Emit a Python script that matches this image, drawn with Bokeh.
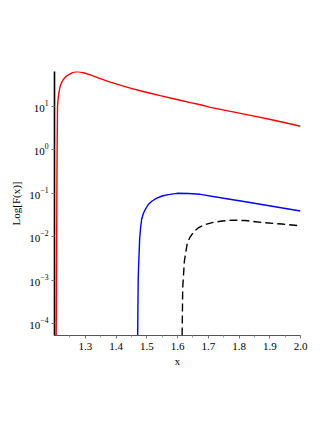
from bokeh.plotting import figure
from bokeh.models import FixedTicker, Range1d, NumeralTickFormatter
from bokeh.embed import file_html
from bokeh.resources import INLINE

# Red curve
red_x = [1.2055, 1.2065, 1.2075, 1.2085, 1.2098, 1.2115, 1.2140, 1.2165, 1.2190, 1.2230,
         1.2270, 1.2350, 1.2430, 1.2510, 1.2590, 1.2674, 1.2750, 1.2850, 1.3000, 1.3163,
         1.3489, 1.3814, 1.4140, 1.4466, 1.4790, 1.5117, 1.5440, 1.5769, 1.6090, 1.6420,
         1.6750, 1.7072, 1.7560, 1.8049, 1.8540, 1.9026, 1.9510, 2.0]
red_y = [5.3e-5, 1e-3, 0.05, 1.0, 10.0, 14.0, 20.0, 25.0, 30.0, 35.0,
         40.0, 47.0, 52.0, 56.0, 60.0, 62.5, 63.0, 61.5, 58.0, 53.3,
         43.5, 36.3, 30.8, 26.4, 22.9, 20.1, 17.7, 15.6, 13.8, 12.2,
         10.9, 9.49, 8.09, 6.91, 5.90, 4.98, 4.19, 3.48]

# Blue curve
blue_x = [1.4705, 1.4712, 1.4722, 1.4736, 1.4769, 1.4800, 1.4834, 1.4890, 1.4954, 1.5050,
          1.5173, 1.5330, 1.5498, 1.5700, 1.5987, 1.6350, 1.6746, 1.7500, 1.8210, 1.9030, 2.0]
blue_y = [5.3e-5, 2e-4, 1e-3, 0.0021, 0.0088, 0.016, 0.0252, 0.034, 0.0427, 0.055,
          0.0662, 0.077, 0.0863, 0.093, 0.0995, 0.0985, 0.0944, 0.0767, 0.0635, 0.0508, 0.039]

# Black dashed curve
black_x = [1.6150, 1.6170, 1.6225, 1.6313, 1.6390, 1.6475, 1.6580, 1.6690, 1.6900, 1.7127,
           1.7450, 1.7780, 1.8200, 1.8800, 1.9400, 2.0]
black_y = [5.3e-5, 6.8e-4, 0.00279, 0.00676, 0.0092, 0.0114, 0.0139, 0.0162, 0.0190, 0.0211,
           0.0230, 0.0240, 0.0235, 0.0210, 0.0195, 0.0177]

x_ticks = [1.3, 1.4, 1.5, 1.6, 1.7, 1.8, 1.9, 2.0]
x_minor = [1.25, 1.35, 1.45, 1.55, 1.65, 1.75, 1.85, 1.95]
y_ticks = [1e-4, 1e-3, 1e-2, 1e-1, 1e0, 1e1]

p = figure(width=324, height=422, y_axis_type="log",
           x_range=Range1d(1.2, 2.0), y_range=Range1d(5.3e-5, 63.5),
           output_backend="svg", toolbar_location=None,
           min_border_left=54, min_border_right=24, min_border_top=71, min_border_bottom=87)

p.line(red_x, red_y, line_color="#ff0000", line_width=1.4)
p.line(blue_x, blue_y, line_color="#0000ff", line_width=1.4)
p.line(black_x, black_y, line_color="black", line_width=1.4, line_dash="8 4")

p.xgrid.visible = False
p.ygrid.visible = False
p.outline_line_color = None

font = "Liberation Serif"
for ax in (p.xaxis[0], p.yaxis[0]):
    ax.axis_line_color = "black"
    ax.major_tick_line_color = "#777777"
    ax.minor_tick_line_color = "#999999"
    ax.major_tick_in = 0
    ax.major_tick_out = 3
    ax.minor_tick_in = 0
    ax.minor_tick_out = 2
    ax.major_label_text_font = font
    ax.major_label_text_font_size = "11px"
    ax.major_label_text_color = "black"
    ax.axis_label_text_font = font
    ax.axis_label_text_font_size = "11px"
    ax.axis_label_text_font_style = "normal"
    ax.axis_label_text_color = "black"

p.yaxis[0].axis_line_width = 1.6
p.xaxis[0].axis_line_color = "#555555"
p.xaxis[0].ticker = FixedTicker(ticks=x_ticks, minor_ticks=x_minor)
p.xaxis[0].formatter = NumeralTickFormatter(format="0.0")
p.yaxis[0].ticker = FixedTicker(ticks=y_ticks)
p.xaxis[0].axis_label = "x"
p.yaxis[0].axis_label = "Log[F(x)]"
p.xaxis[0].major_label_standoff = 4
p.yaxis[0].major_label_standoff = 3
p.xaxis[0].axis_label_standoff = 2
p.yaxis[0].axis_label_standoff = 4

open("out.html", "w").write(file_html(p, INLINE))
